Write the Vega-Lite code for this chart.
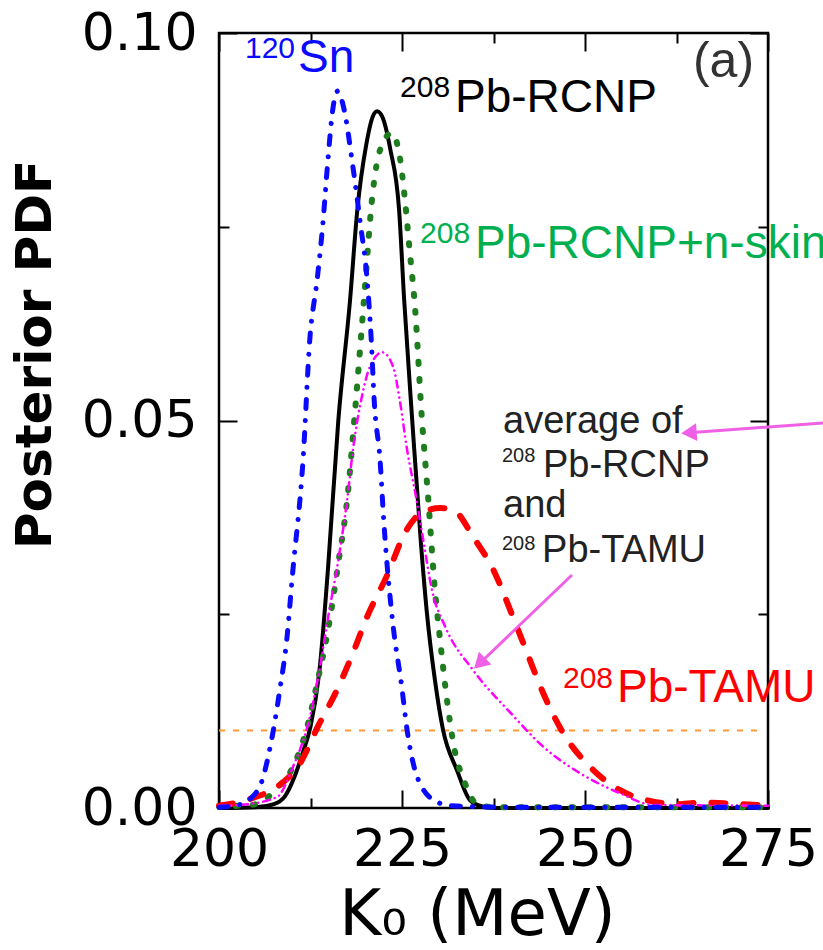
{
  "$schema": "https://vega.github.io/schema/vega-lite/v6.json",
  "width": 549,
  "height": 775,
  "autosize": {"type": "none"},
  "padding": {"left": 219, "top": 33, "right": 55, "bottom": 142},
  "background": "white",
  "config": {
    "view": {"stroke": "#000", "strokeWidth": 2.5},
    "axis": {"grid": false, "domain": false, "tickColor": "#000", "tickWidth": 2, "labelColor": "#000", "titleColor": "#000"}
  },
  "datasets": {
    "curves": [
      {"series": "RCNP", "K": 200, "pdf": 0},
      {"series": "RCNP", "K": 205, "pdf": 0.0001},
      {"series": "RCNP", "K": 207.5, "pdf": 0.0005},
      {"series": "RCNP", "K": 209.0, "pdf": 0.0015},
      {"series": "RCNP", "K": 210.3, "pdf": 0.004},
      {"series": "RCNP", "K": 211.4, "pdf": 0.007},
      {"series": "RCNP", "K": 212.5, "pdf": 0.0105},
      {"series": "RCNP", "K": 213.7, "pdf": 0.0175},
      {"series": "RCNP", "K": 214.9, "pdf": 0.031},
      {"series": "RCNP", "K": 216.3, "pdf": 0.05},
      {"series": "RCNP", "K": 217.9, "pdf": 0.0655},
      {"series": "RCNP", "K": 218.9, "pdf": 0.0772},
      {"series": "RCNP", "K": 220.1, "pdf": 0.0855},
      {"series": "RCNP", "K": 221.0, "pdf": 0.0892},
      {"series": "RCNP", "K": 221.6, "pdf": 0.0899},
      {"series": "RCNP", "K": 222.3, "pdf": 0.0892},
      {"series": "RCNP", "K": 223.4, "pdf": 0.085},
      {"series": "RCNP", "K": 224.6, "pdf": 0.0772},
      {"series": "RCNP", "K": 225.3, "pdf": 0.0655},
      {"series": "RCNP", "K": 226.4, "pdf": 0.05},
      {"series": "RCNP", "K": 227.6, "pdf": 0.034},
      {"series": "RCNP", "K": 228.4, "pdf": 0.0252},
      {"series": "RCNP", "K": 229.5, "pdf": 0.0165},
      {"series": "RCNP", "K": 230.6, "pdf": 0.0101},
      {"series": "RCNP", "K": 232.5, "pdf": 0.0049},
      {"series": "RCNP", "K": 234.3, "pdf": 0.001},
      {"series": "RCNP", "K": 236, "pdf": 0.0002},
      {"series": "RCNP", "K": 238, "pdf": 0},
      {"series": "RCNP", "K": 275, "pdf": 0},

      {"series": "Sn120", "K": 200, "pdf": 0.0001},
      {"series": "Sn120", "K": 202.2, "pdf": 0.0003},
      {"series": "Sn120", "K": 204.5, "pdf": 0.0014},
      {"series": "Sn120", "K": 205.9, "pdf": 0.0036},
      {"series": "Sn120", "K": 207.0, "pdf": 0.0079},
      {"series": "Sn120", "K": 208.3, "pdf": 0.0152},
      {"series": "Sn120", "K": 209.3, "pdf": 0.0221},
      {"series": "Sn120", "K": 210.0, "pdf": 0.0297},
      {"series": "Sn120", "K": 211.5, "pdf": 0.0452},
      {"series": "Sn120", "K": 212.4, "pdf": 0.0604},
      {"series": "Sn120", "K": 213.4, "pdf": 0.0681},
      {"series": "Sn120", "K": 214.2, "pdf": 0.0755},
      {"series": "Sn120", "K": 214.8, "pdf": 0.0827},
      {"series": "Sn120", "K": 215.6, "pdf": 0.0905},
      {"series": "Sn120", "K": 216.2, "pdf": 0.0925},
      {"series": "Sn120", "K": 217.0, "pdf": 0.0905},
      {"series": "Sn120", "K": 218.3, "pdf": 0.0827},
      {"series": "Sn120", "K": 219.3, "pdf": 0.0755},
      {"series": "Sn120", "K": 220.2, "pdf": 0.0685},
      {"series": "Sn120", "K": 220.8, "pdf": 0.0604},
      {"series": "Sn120", "K": 221.2, "pdf": 0.0526},
      {"series": "Sn120", "K": 222.0, "pdf": 0.0449},
      {"series": "Sn120", "K": 222.5, "pdf": 0.0372},
      {"series": "Sn120", "K": 223.8, "pdf": 0.0234},
      {"series": "Sn120", "K": 224.9, "pdf": 0.0161},
      {"series": "Sn120", "K": 225.8, "pdf": 0.0094},
      {"series": "Sn120", "K": 227.7, "pdf": 0.0027},
      {"series": "Sn120", "K": 230.2, "pdf": 0.0006},
      {"series": "Sn120", "K": 231.6, "pdf": 0.0003},
      {"series": "Sn120", "K": 240, "pdf": 0.0001},
      {"series": "Sn120", "K": 275, "pdf": 0.0001},

      {"series": "RCNPskin", "K": 200, "pdf": 0.0002},
      {"series": "RCNPskin", "K": 203, "pdf": 0.0003},
      {"series": "RCNPskin", "K": 205.6, "pdf": 0.0006},
      {"series": "RCNPskin", "K": 207.5, "pdf": 0.0022},
      {"series": "RCNPskin", "K": 210.1, "pdf": 0.0053},
      {"series": "RCNPskin", "K": 212.2, "pdf": 0.011},
      {"series": "RCNPskin", "K": 213.4, "pdf": 0.0161},
      {"series": "RCNPskin", "K": 214.9, "pdf": 0.023},
      {"series": "RCNPskin", "K": 216.3, "pdf": 0.0316},
      {"series": "RCNPskin", "K": 217.5, "pdf": 0.0397},
      {"series": "RCNPskin", "K": 218.6, "pdf": 0.0514},
      {"series": "RCNPskin", "K": 219.8, "pdf": 0.0655},
      {"series": "RCNPskin", "K": 221.0, "pdf": 0.0794},
      {"series": "RCNPskin", "K": 222.0, "pdf": 0.0849},
      {"series": "RCNPskin", "K": 223.6, "pdf": 0.0871},
      {"series": "RCNPskin", "K": 224.7, "pdf": 0.084},
      {"series": "RCNPskin", "K": 225.4, "pdf": 0.0785},
      {"series": "RCNPskin", "K": 226.0, "pdf": 0.0724},
      {"series": "RCNPskin", "K": 226.8, "pdf": 0.0643},
      {"series": "RCNPskin", "K": 227.7, "pdf": 0.0505},
      {"series": "RCNPskin", "K": 228.6, "pdf": 0.0397},
      {"series": "RCNPskin", "K": 229.5, "pdf": 0.0281},
      {"series": "RCNPskin", "K": 230.1, "pdf": 0.0226},
      {"series": "RCNPskin", "K": 231.1, "pdf": 0.0143},
      {"series": "RCNPskin", "K": 232.0, "pdf": 0.0084},
      {"series": "RCNPskin", "K": 233.6, "pdf": 0.0032},
      {"series": "RCNPskin", "K": 235.4, "pdf": 0.0004},
      {"series": "RCNPskin", "K": 238, "pdf": 0.0001},
      {"series": "RCNPskin", "K": 275, "pdf": 0.0001},

      {"series": "TAMU", "K": 200, "pdf": 0.0003},
      {"series": "TAMU", "K": 202, "pdf": 0.0006},
      {"series": "TAMU", "K": 204.6, "pdf": 0.0013},
      {"series": "TAMU", "K": 207.9, "pdf": 0.0027},
      {"series": "TAMU", "K": 211.1, "pdf": 0.0058},
      {"series": "TAMU", "K": 213.5, "pdf": 0.0105},
      {"series": "TAMU", "K": 216.1, "pdf": 0.0152},
      {"series": "TAMU", "K": 218.3, "pdf": 0.02},
      {"series": "TAMU", "K": 220.2, "pdf": 0.0246},
      {"series": "TAMU", "K": 223.0, "pdf": 0.0301},
      {"series": "TAMU", "K": 225.4, "pdf": 0.0355},
      {"series": "TAMU", "K": 227.7, "pdf": 0.0381},
      {"series": "TAMU", "K": 230.2, "pdf": 0.0387},
      {"series": "TAMU", "K": 232.2, "pdf": 0.0383},
      {"series": "TAMU", "K": 234.7, "pdf": 0.035},
      {"series": "TAMU", "K": 237.7, "pdf": 0.0303},
      {"series": "TAMU", "K": 239.8, "pdf": 0.0255},
      {"series": "TAMU", "K": 242.1, "pdf": 0.02},
      {"series": "TAMU", "K": 244.3, "pdf": 0.0148},
      {"series": "TAMU", "K": 247.0, "pdf": 0.0097},
      {"series": "TAMU", "K": 250.7, "pdf": 0.0053},
      {"series": "TAMU", "K": 254.8, "pdf": 0.0023},
      {"series": "TAMU", "K": 258.5, "pdf": 0.001},
      {"series": "TAMU", "K": 263.0, "pdf": 0.0005},
      {"series": "TAMU", "K": 266, "pdf": 0.0007},
      {"series": "TAMU", "K": 269, "pdf": 0.0006},
      {"series": "TAMU", "K": 275, "pdf": 0.0003},

      {"series": "avg", "K": 200, "pdf": 0.0003},
      {"series": "avg", "K": 202.9, "pdf": 0.0004},
      {"series": "avg", "K": 207.9, "pdf": 0.0014},
      {"series": "avg", "K": 210.1, "pdf": 0.0053},
      {"series": "avg", "K": 212.4, "pdf": 0.0117},
      {"series": "avg", "K": 213.8, "pdf": 0.0182},
      {"series": "avg", "K": 214.9, "pdf": 0.0246},
      {"series": "avg", "K": 216.3, "pdf": 0.032},
      {"series": "avg", "K": 217.5, "pdf": 0.0397},
      {"series": "avg", "K": 218.3, "pdf": 0.0462},
      {"series": "avg", "K": 219.5, "pdf": 0.053},
      {"series": "avg", "K": 220.6, "pdf": 0.0569},
      {"series": "avg", "K": 222.3, "pdf": 0.0588},
      {"series": "avg", "K": 223.8, "pdf": 0.0569},
      {"series": "avg", "K": 224.7, "pdf": 0.0526},
      {"series": "avg", "K": 225.7, "pdf": 0.0462},
      {"series": "avg", "K": 227.0, "pdf": 0.0397},
      {"series": "avg", "K": 227.9, "pdf": 0.0346},
      {"series": "avg", "K": 229.1, "pdf": 0.0281},
      {"series": "avg", "K": 230.9, "pdf": 0.0234},
      {"series": "avg", "K": 234.7, "pdf": 0.0178},
      {"series": "avg", "K": 239.8, "pdf": 0.0123},
      {"series": "avg", "K": 244.3, "pdf": 0.0079},
      {"series": "avg", "K": 249.3, "pdf": 0.0045},
      {"series": "avg", "K": 254.8, "pdf": 0.0019},
      {"series": "avg", "K": 259.3, "pdf": 0.0004},
      {"series": "avg", "K": 275, "pdf": 0.0003}
    ],
    "labels": [
      {"role": "sup", "series": "Sn120", "text": "120", "K": 203.55, "pdf": 0.09677},
      {"role": "main", "series": "Sn120", "text": "Sn", "K": 210.79, "pdf": 0.09497},
      {"role": "sup", "series": "RCNP", "text": "208", "K": 224.73, "pdf": 0.09174},
      {"role": "main", "series": "RCNP", "text": "Pb-RCNP", "K": 232.24, "pdf": 0.08981},
      {"role": "sup", "series": "skinlabel", "text": "208", "K": 227.46, "pdf": 0.0729},
      {"role": "main", "series": "skinlabel", "text": "Pb-RCNP+n-skin", "K": 234.97, "pdf": 0.07097},
      {"role": "sup", "series": "TAMU", "text": "208", "K": 246.99, "pdf": 0.01548},
      {"role": "main", "series": "TAMU", "text": "Pb-TAMU", "K": 254.37, "pdf": 0.01368},
      {"role": "ann", "series": "ann", "text": "average of", "K": 238.8, "pdf": 0.04839},
      {"role": "annsup", "series": "ann", "text": "208", "K": 238.66, "pdf": 0.04465},
      {"role": "ann", "series": "ann", "text": "Pb-RCNP", "K": 244.26, "pdf": 0.04271},
      {"role": "ann", "series": "ann", "text": "and", "K": 238.8, "pdf": 0.03755},
      {"role": "annsup", "series": "ann", "text": "208", "K": 238.66, "pdf": 0.03329},
      {"role": "ann", "series": "ann", "text": "Pb-TAMU", "K": 244.13, "pdf": 0.03174},
      {"role": "panel", "series": "panel", "text": "(a)", "K": 264.75, "pdf": 0.09432}
    ],
    "arrows": [
      {"arrow": "a1", "K": 285, "pdf": 0.04985, "K2": 264.2, "pdf2": 0.04843},
      {"arrow": "a2", "K": 248.22, "pdf": 0.03006, "K2": 235.6, "pdf2": 0.01865}
    ],
    "heads": [
      {"arrow": "a1", "K": 264.2, "pdf": 0.04843},
      {"arrow": "a2", "K": 235.6, "pdf": 0.01865}
    ],
    "threshold": [
      {"K": 200, "K2": 274, "pdf": 0.01}
    ]
  },
  "resolve": {"axis": {"x": "independent", "y": "independent"}},
  "layer": [
    {
      "data": {"name": "threshold"},
      "mark": {"type": "rule", "color": "#ff9933", "strokeWidth": 2, "strokeDash": [6, 8]},
      "encoding": {
        "x": {"field": "K", "type": "quantitative", "scale": {"domain": [200, 275], "nice": false, "zero": false}, "axis": null},
        "x2": {"field": "K2"},
        "y": {"field": "pdf", "type": "quantitative", "scale": {"domain": [0, 0.1], "nice": false, "zero": false}, "axis": null}
      }
    },
    {
      "data": {"name": "curves"},
      "transform": [{"filter": {"field": "series", "equal": "RCNP"}}],
      "mark": {"type": "line", "color": "#000000", "strokeWidth": 4, "strokeCap": "round", "strokeJoin": "round", "interpolate": "monotone"},
      "encoding": {
        "x": {"field": "K", "type": "quantitative", "scale": {"domain": [200, 275], "nice": false, "zero": false},
          "axis": {"orient": "bottom", "values": [200, 225, 250, 275], "format": "d", "ticks": false, "tickSize": 0,
            "labelFont": "DejaVu Sans", "labelFontSize": 52, "labelBaseline": "alphabetic", "labelPadding": 57,
            "labelFlush": false, "labelOverlap": false, "labelBound": false,
            "title": "K₀ (MeV)", "titleFont": "DejaVu Sans", "titleFontSize": 64, "titleFontWeight": "normal",
            "titleX": 258, "titleY": 126, "titleBaseline": "alphabetic", "titleAlign": "center"}},
        "y": {"field": "pdf", "type": "quantitative", "scale": {"domain": [0, 0.1], "nice": false, "zero": false},
          "axis": {"orient": "left", "values": [0, 0.05, 0.1], "format": ".2f", "ticks": false, "tickSize": 0,
            "labelFont": "DejaVu Sans", "labelFontSize": 52, "labelPadding": 22, "labelBaseline": "middle",
            "labelFlush": false, "labelOverlap": false, "labelBound": false,
            "title": "Posterior PDF", "titleFont": "DejaVu Sans", "titleFontSize": 50, "titleFontWeight": "bold",
            "titleAngle": 270, "titleX": -169, "titleY": 321, "titleBaseline": "alphabetic", "titleAlign": "center"}}
      }
    },
    {
      "data": {"name": "curves"},
      "transform": [{"filter": {"field": "series", "equal": "RCNPskin"}}],
      "mark": {"type": "line", "color": "#1e7d1e", "strokeWidth": 6, "strokeCap": "round", "strokeDash": [2, 15], "interpolate": "monotone"},
      "encoding": {
        "x": {"field": "K", "type": "quantitative", "scale": {"domain": [200, 275], "nice": false, "zero": false},
          "axis": {"orient": "bottom", "values": [200, 225, 250, 275], "labels": false, "tickSize": -18, "title": null}},
        "y": {"field": "pdf", "type": "quantitative", "scale": {"domain": [0, 0.1], "nice": false, "zero": false},
          "axis": {"orient": "left", "values": [0, 0.05, 0.1], "labels": false, "tickSize": -18, "title": null}}
      }
    },
    {
      "data": {"name": "curves"},
      "transform": [{"filter": {"field": "series", "equal": "TAMU"}}],
      "mark": {"type": "line", "color": "#ff0000", "strokeWidth": 6, "strokeCap": "round", "strokeDash": [14, 18], "interpolate": "monotone"},
      "encoding": {
        "x": {"field": "K", "type": "quantitative", "scale": {"domain": [200, 275], "nice": false, "zero": false},
          "axis": {"orient": "bottom", "values": [212.5, 237.5, 262.5], "labels": false, "tickSize": -10, "title": null}},
        "y": {"field": "pdf", "type": "quantitative", "scale": {"domain": [0, 0.1], "nice": false, "zero": false},
          "axis": {"orient": "left", "values": [0.025, 0.075], "labels": false, "tickSize": -10, "title": null}}
      }
    },
    {
      "data": {"name": "curves"},
      "transform": [{"filter": {"field": "series", "equal": "avg"}}],
      "mark": {"type": "line", "color": "#ff00ff", "strokeWidth": 2.5, "strokeCap": "round", "strokeDash": [7, 5, 0.1, 5, 0.1, 5], "interpolate": "monotone"},
      "encoding": {
        "x": {"field": "K", "type": "quantitative", "scale": {"domain": [200, 275], "nice": false, "zero": false},
          "axis": {"orient": "top", "values": [200, 225, 250, 275], "labels": false, "tickSize": -18, "title": null}},
        "y": {"field": "pdf", "type": "quantitative", "scale": {"domain": [0, 0.1], "nice": false, "zero": false},
          "axis": {"orient": "right", "values": [0, 0.05, 0.1], "labels": false, "tickSize": -18, "title": null}}
      }
    },
    {
      "data": {"name": "curves"},
      "transform": [{"filter": {"field": "series", "equal": "Sn120"}}],
      "mark": {"type": "line", "color": "#0a0aff", "strokeWidth": 5, "strokeCap": "round", "strokeDash": [9, 12, 0.1, 12], "interpolate": "monotone"},
      "encoding": {
        "x": {"field": "K", "type": "quantitative", "scale": {"domain": [200, 275], "nice": false, "zero": false},
          "axis": {"orient": "top", "values": [212.5, 237.5, 262.5], "labels": false, "tickSize": -10, "title": null}},
        "y": {"field": "pdf", "type": "quantitative", "scale": {"domain": [0, 0.1], "nice": false, "zero": false},
          "axis": {"orient": "right", "values": [0.025, 0.075], "labels": false, "tickSize": -10, "title": null}}
      }
    },
    {
      "data": {"name": "arrows"},
      "mark": {"type": "rule", "color": "#f060e6", "strokeWidth": 3},
      "encoding": {
        "x": {"field": "K", "type": "quantitative", "scale": {"domain": [200, 275], "nice": false, "zero": false}, "axis": null},
        "y": {"field": "pdf", "type": "quantitative", "scale": {"domain": [0, 0.1], "nice": false, "zero": false}, "axis": null},
        "x2": {"field": "K2"},
        "y2": {"field": "pdf2"}
      }
    },
    {
      "data": {"name": "heads"},
      "transform": [{"filter": {"field": "arrow", "equal": "a1"}}],
      "mark": {"type": "point", "shape": "triangle-left", "filled": true, "color": "#f060e6", "opacity": 1, "size": 320, "angle": 356},
      "encoding": {
        "x": {"field": "K", "type": "quantitative", "scale": {"domain": [200, 275], "nice": false, "zero": false}, "axis": null},
        "y": {"field": "pdf", "type": "quantitative", "scale": {"domain": [0, 0.1], "nice": false, "zero": false}, "axis": null}
      }
    },
    {
      "data": {"name": "heads"},
      "transform": [{"filter": {"field": "arrow", "equal": "a2"}}],
      "mark": {"type": "point", "shape": "triangle-left", "filled": true, "color": "#f060e6", "opacity": 1, "size": 320, "angle": 316},
      "encoding": {
        "x": {"field": "K", "type": "quantitative", "scale": {"domain": [200, 275], "nice": false, "zero": false}, "axis": null},
        "y": {"field": "pdf", "type": "quantitative", "scale": {"domain": [0, 0.1], "nice": false, "zero": false}, "axis": null}
      }
    },
    {
      "data": {"name": "labels"},
      "transform": [{"filter": {"field": "role", "equal": "sup"}}],
      "mark": {"type": "text", "font": "Liberation Sans", "fontSize": 30, "align": "left", "baseline": "alphabetic"},
      "encoding": {
        "x": {"field": "K", "type": "quantitative", "scale": {"domain": [200, 275], "nice": false, "zero": false}, "axis": null},
        "y": {"field": "pdf", "type": "quantitative", "scale": {"domain": [0, 0.1], "nice": false, "zero": false}, "axis": null},
        "text": {"field": "text"},
        "color": {"field": "series", "type": "nominal", "legend": null,
          "scale": {"domain": ["Sn120", "RCNP", "skinlabel", "TAMU"], "range": ["#0a0aff", "#000000", "#00b050", "#ff0000"]}}
      }
    },
    {
      "data": {"name": "labels"},
      "transform": [{"filter": {"field": "role", "equal": "main"}}],
      "mark": {"type": "text", "font": "Liberation Sans", "fontSize": 46, "align": "left", "baseline": "alphabetic"},
      "encoding": {
        "x": {"field": "K", "type": "quantitative", "scale": {"domain": [200, 275], "nice": false, "zero": false}, "axis": null},
        "y": {"field": "pdf", "type": "quantitative", "scale": {"domain": [0, 0.1], "nice": false, "zero": false}, "axis": null},
        "text": {"field": "text"},
        "color": {"field": "series", "type": "nominal", "legend": null,
          "scale": {"domain": ["Sn120", "RCNP", "skinlabel", "TAMU"], "range": ["#0a0aff", "#000000", "#00b050", "#ff0000"]}}
      }
    },
    {
      "data": {"name": "labels"},
      "transform": [{"filter": {"field": "role", "equal": "ann"}}],
      "mark": {"type": "text", "font": "Liberation Sans", "fontSize": 38, "align": "left", "baseline": "alphabetic", "color": "#222222"},
      "encoding": {
        "x": {"field": "K", "type": "quantitative", "scale": {"domain": [200, 275], "nice": false, "zero": false}, "axis": null},
        "y": {"field": "pdf", "type": "quantitative", "scale": {"domain": [0, 0.1], "nice": false, "zero": false}, "axis": null},
        "text": {"field": "text"}
      }
    },
    {
      "data": {"name": "labels"},
      "transform": [{"filter": {"field": "role", "equal": "annsup"}}],
      "mark": {"type": "text", "font": "Liberation Sans", "fontSize": 20, "align": "left", "baseline": "alphabetic", "color": "#222222"},
      "encoding": {
        "x": {"field": "K", "type": "quantitative", "scale": {"domain": [200, 275], "nice": false, "zero": false}, "axis": null},
        "y": {"field": "pdf", "type": "quantitative", "scale": {"domain": [0, 0.1], "nice": false, "zero": false}, "axis": null},
        "text": {"field": "text"}
      }
    },
    {
      "data": {"name": "labels"},
      "transform": [{"filter": {"field": "role", "equal": "panel"}}],
      "mark": {"type": "text", "font": "Liberation Sans", "fontSize": 50, "align": "left", "baseline": "alphabetic", "color": "#333333"},
      "encoding": {
        "x": {"field": "K", "type": "quantitative", "scale": {"domain": [200, 275], "nice": false, "zero": false}, "axis": null},
        "y": {"field": "pdf", "type": "quantitative", "scale": {"domain": [0, 0.1], "nice": false, "zero": false}, "axis": null},
        "text": {"field": "text"}
      }
    }
  ]
}
